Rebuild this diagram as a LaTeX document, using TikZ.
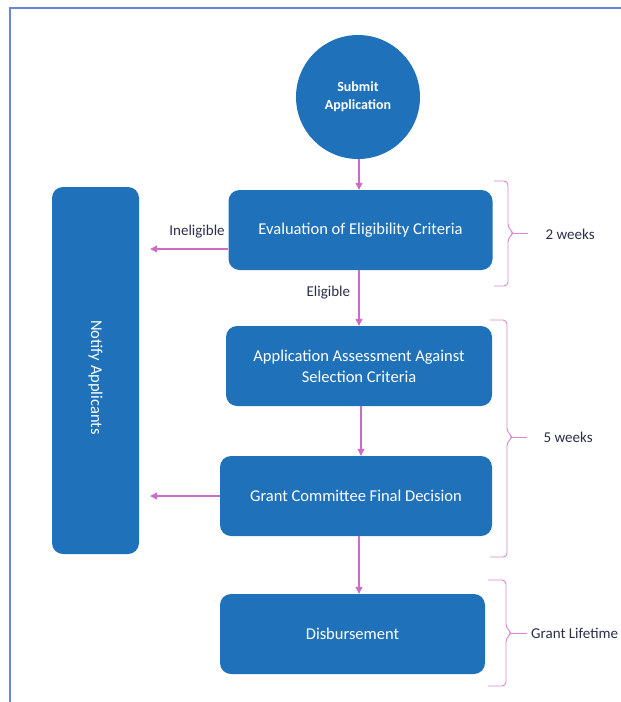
\documentclass[tikz,border=0pt]{standalone}
\usepackage{fontspec}
\setmainfont{Carlito}
\usetikzlibrary{arrows.meta,positioning}

\definecolor{stageblue}{HTML}{1F71BA}
\definecolor{flowpink}{HTML}{CC6CC4}
\definecolor{framelilac}{HTML}{6A86D6}
\definecolor{tagnavy}{HTML}{2B2D4A}

\begin{document}
\begin{tikzpicture}
            [
                x=1pt, y=-1pt,
                every node/.style={font=\fontsize{16.5}{21}\selectfont},
                stage/.style={
                    fill=stageblue, text=white, rounded corners=11pt,
                    align=center, inner sep=0pt
                },
                flow/.style={draw=flowpink, line width=1.1pt,
                    -{Triangle[length=7pt,width=7pt]}},
                span/.style={draw=flowpink!80, line width=0.9pt,
                    rounded corners=4pt},
                tag/.style={text=tagnavy, font=\fontsize{15}{18}\selectfont}
            ]
            \useasboundingbox (0,0) rectangle (621,702);
            % page frame
            \draw[framelilac, line width=1.2pt] (621,8) -- (10,8) -- (10,702);

            \node[circle, fill=stageblue, text=white, minimum size=124pt,
                align=center, font=\fontsize{14}{18}\selectfont\bfseries]
                (submit) at (358,97) {Submit\\Application};
            \node[stage, minimum width=264pt, minimum height=80pt]
                (eval) at (360.5,230) {Evaluation of Eligibility Criteria};
            \node[stage, minimum width=266pt, minimum height=80pt]
                (assess) at (359,366)
                {Application Assessment Against\\Selection Criteria};
            \node[stage, minimum width=272pt, minimum height=80pt]
                (grant) at (356,496) {Grant Committee Final Decision};
            \node[stage, minimum width=265pt, minimum height=80pt]
                (disburse) at (352.5,634) {Disbursement};
            \node[stage, minimum width=87pt, minimum height=367pt]
                (notify) at (95.5,370.5)
                {\rotatebox{-90}{\hspace*{14pt}Notify Applicants}};

            % main flow
            \coordinate (spine) at (359,0);
            \coordinate (inelig) at ([yshift=-19pt]eval.west);
            \draw[flow] (submit.south -| spine) -- (eval.north -| spine);
            \draw[flow] (eval.south -| spine) --
                node[tag, left=5pt, pos=0.4] (eligtxt) {Eligible}
                (assess.north -| spine);
            \draw[flow] ([xshift=2pt]assess.south -| spine) --
                ([xshift=2pt]grant.north -| spine);
            \draw[flow] (grant.south -| spine) -- (disburse.north -| spine);

            % back to applicants
            \draw[flow] (inelig) --
                node[tag, above=7pt, pos=0.4] (ineligtxt) {Ineligible}
                ([xshift=11pt]notify.east |- inelig);
            \draw[flow] (grant.west) -- ([xshift=11pt]notify.east |- grant.west);

            % time spans
            \draw[span] (494,181) -- (508,181) -- (508,228) -- (514,233)
                -- (508,238) -- (508,286) -- (494,286);
            \draw[span] (513,233) -- (528,233);
            \node[tag, anchor=west] (twoweeks) at (542,234) {2 weeks};

            \draw[span] (490,320) -- (507,320) -- (507,432) -- (513,437)
                -- (507,442) -- (507,557) -- (490,557);
            \draw[span] (512,437) -- (527,437);
            \node[tag, anchor=west] (fiveweeks) at (540,437) {5 weeks};

            \draw[span] (488,580) -- (506,580) -- (506,628) -- (512,633)
                -- (506,638) -- (506,686) -- (488,686);
            \draw[span] (511,633) -- (527,633);
            \node[tag, anchor=west, inner sep=1pt] (lifetime) at (530,633)
                {Grant Lifetime};
\end{tikzpicture}
\end{document}
